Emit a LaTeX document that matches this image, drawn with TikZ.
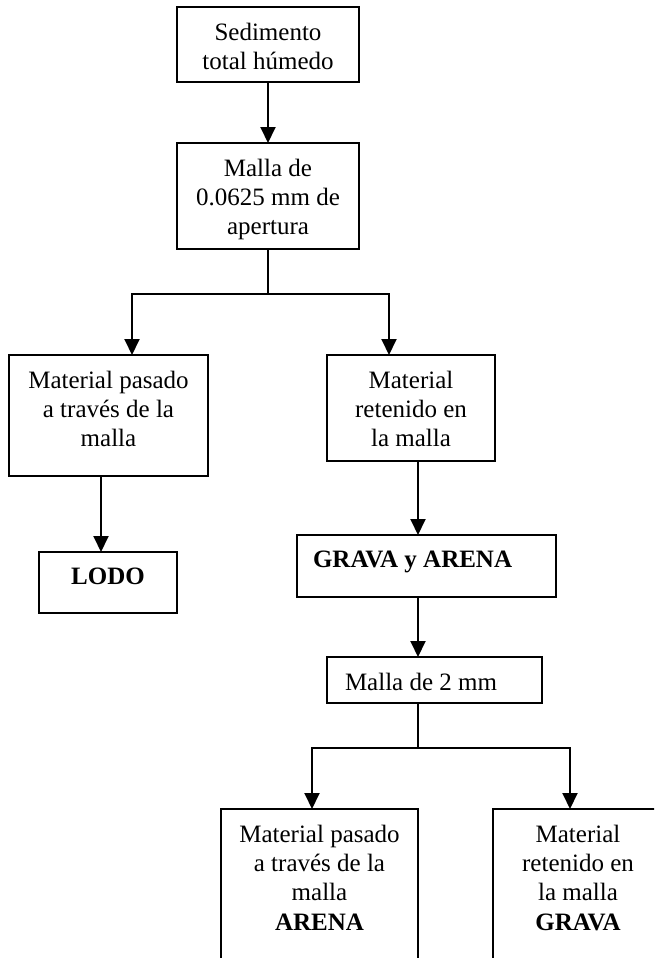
\documentclass[tikz,border=0pt]{standalone}
\usepackage{fontspec}
\setmainfont{Liberation Serif}
\usetikzlibrary{arrows.meta}
\newcommand\bxc[3]{\parbox[c][#2][t]{#1}{\vspace*{16pt}\centering #3\par}}
\newcommand\bxl[4]{\parbox[c][#2][t]{#1}{\vspace*{16pt}\raggedright\hspace*{#3}#4\par}}
\tikzset{
  box/.style={draw, line width=2pt, inner sep=0pt, outer sep=0pt, anchor=north west,
    font=\fontsize{25}{29.3}\selectfont},
  con/.style={line width=1.9pt},
  arr/.style={line width=1.9pt, -{Triangle[length=16pt,width=15pt]}}
}
\begin{document}
\begin{tikzpicture}[x=1pt,y=-1pt]
\useasboundingbox (0,0) rectangle (654,958);
\clip (0,0) rectangle (654,958);
\node[box] (b1) at (177,7) {\bxc{182pt}{75pt}{Sedimento\\total húmedo}};
\node[box] (b2) at (177,143) {\bxc{182pt}{106pt}{Malla de\\0.0625 mm de\\apertura}};
\node[box] (b3) at (9,355) {\bxc{199pt}{121pt}{Material pasado\\a través de la\\malla}};
\node[box] (b4) at (327,355) {\bxc{168pt}{106pt}{Material\\retenido en\\la malla}};
\node[box] (b5) at (39,552) {\bxc{138pt}{61pt}{\textbf{LODO}}};
\node[box] (b6) at (297,535) {\bxl{259pt}{62pt}{16pt}{\textbf{GRAVA y ARENA}}};
\node[box] (b7) at (327,657) {\bxl{215pt}{46pt}{18pt}{Malla de 2 mm}};
\node[box] (b8) at (221,809) {\bxc{197pt}{160pt}{Material pasado\\a través de la\\malla\\\textbf{ARENA}}};
\node[box] (b9) at (493,809) {\bxc{170pt}{160pt}{Material\\retenido en\\la malla\\\textbf{GRAVA}}};
\coordinate (j1) at (268,294);
\coordinate (j2) at (418,748);
\draw[arr] (b1.south) -- (b2.north);
\draw[con] (b2.south) -- (j1);
\draw[arr] (j1) -| ([xshift=23.5pt]b3.north);
\draw[arr] (j1) -| ([xshift=-22pt]b4.north);
\draw[arr] ([xshift=-7.5pt]b3.south) -- ([xshift=-7.5pt]b3.south |- b5.north);
\draw[arr] ([xshift=7pt]b4.south) -- ([xshift=7pt]b4.south |- b6.north);
\draw[arr] ([xshift=-8.5pt]b6.south) -- ([xshift=-8.5pt]b6.south |- b7.north);
\draw[con] (b7.south -| j2) -- (j2);
\draw[arr] (j2) -| ([xshift=-7.5pt]b8.north);
\draw[arr] (j2) -| ([xshift=-8pt]b9.north);
\end{tikzpicture}
\end{document}
